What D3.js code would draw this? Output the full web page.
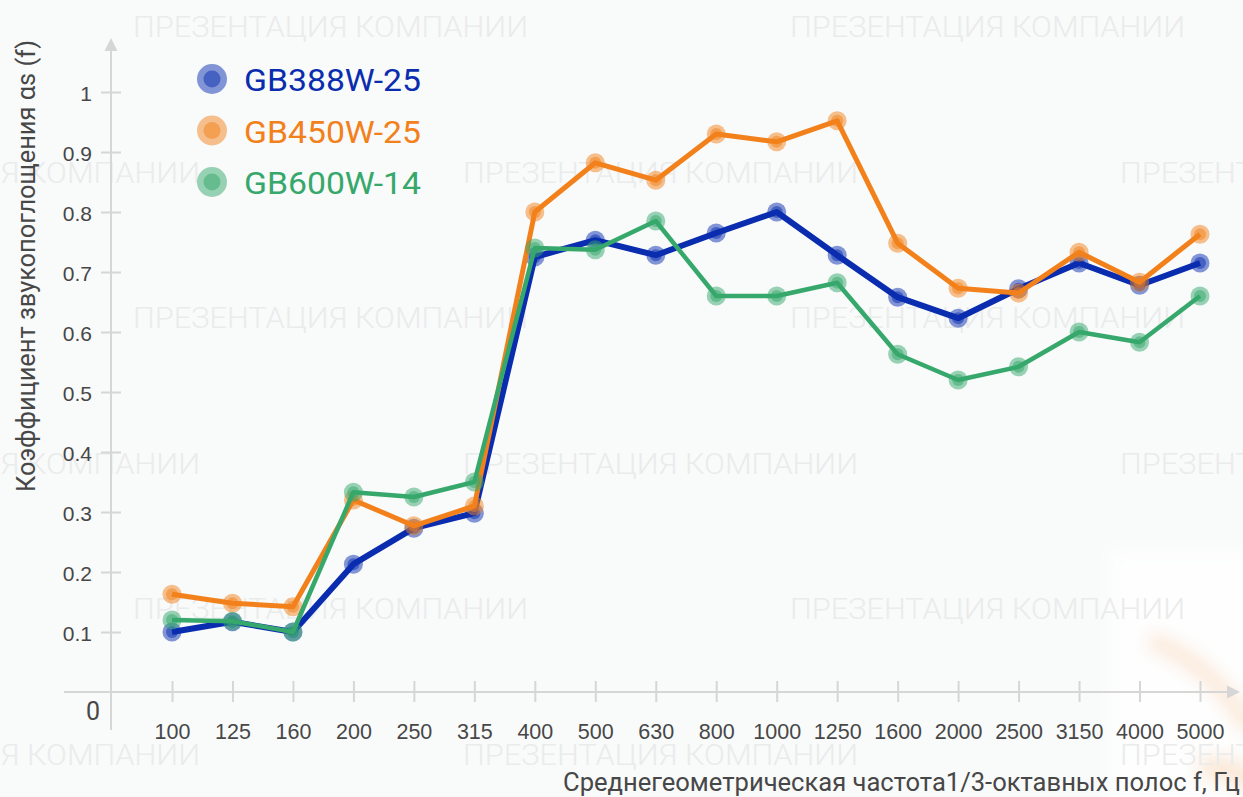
<!DOCTYPE html>
<html>
<head>
<meta charset="utf-8">
<script src="https://cdn.jsdelivr.net/npm/d3@7"></script>
<style>
    html, body { margin: 0; padding: 0; background: #f9fafa; }
    svg { display: block; font-family: Roboto, "Noto Sans", sans-serif; }
</style>
</head>
<body>
<svg id="chart" width="1243" height="797"></svg>
<script>

// Octave-band centre frequencies, Hz
var frequencies = ["100", "125", "160", "200", "250", "315", "400", "500", "630",
    "800", "1000", "1250", "1600", "2000", "2500", "3150", "4000", "5000"];

// Sound absorption coefficient per panel type
var gb388 = [0.10, 0.117, 0.10, 0.213, 0.273, 0.298, 0.725, 0.753, 0.728,
    0.765, 0.80, 0.728, 0.658, 0.623, 0.672, 0.715, 0.678, 0.715];
var gb450 = [0.163, 0.148, 0.142, 0.32, 0.277, 0.31, 0.80, 0.882, 0.853,
    0.93, 0.917, 0.952, 0.748, 0.673, 0.665, 0.733, 0.683, 0.763];
var gb600 = [0.12, 0.118, 0.10, 0.333, 0.325, 0.35, 0.74, 0.737, 0.785,
    0.66, 0.66, 0.682, 0.563, 0.52, 0.542, 0.60, 0.583, 0.66];

var seriesNames = ["GB388W-25", "GB450W-25", "GB600W-14"];
var yTicks = [0.1, 0.2, 0.3, 0.4, 0.5, 0.6, 0.7, 0.8, 0.9, 1];

var yTitle = "Коэффициент звукопоглощения αs (f)";
var xTitle = "Среднегеометрическая частота1/3-октавных полос f, Гц";
var watermark = "ПРЕЗЕНТАЦИЯ КОМПАНИИ";

var svg = d3.select("#chart");
var W = +svg.attr("width"), H = +svg.attr("height");

var cfg = {
    axisX: 111,
    axisY: 692,
    axisColor: "#d6d6d6",
    labelColor: "#474747",
    colors: ["#0a2db0", "#f2811b", "#36a86b"],
    widths: [6, 5, 4.5]
};

var x = d3.scalePoint().domain(frequencies).range([172, 1200]);
var y = d3.scaleLinear().domain([0, 1]).range([cfg.axisY, 92]);

// Background and watermark tiles
svg.append("rect").attr("width", W).attr("height", H).attr("fill", "#f9fafa");

var defs = svg.append("defs");
defs.append("filter").attr("id", "soft")
    .append("feGaussianBlur").attr("stdDeviation", 9);

// faint photo bleed in the lower right corner
var blob = svg.append("g").attr("filter", "url(#soft)");
blob.append("rect").attr("x", 1110).attr("y", 550).attr("width", 160).attr("height", 260)
    .attr("fill", "#ffffff").attr("opacity", 0.8);
blob.append("path").attr("d", "M1150,640 Q1215,665 1250,730")
    .attr("fill", "none").attr("stroke", "#f3b070").attr("stroke-width", 14).attr("opacity", 0.35);
blob.append("path").attr("d", "M1200,770 Q1230,760 1260,790")
    .attr("fill", "none").attr("stroke", "#f3b070").attr("stroke-width", 22).attr("opacity", 0.3);

var wm = svg.append("g").attr("fill", "#eaebeb").attr("font-size", 30).attr("font-weight", 300);
for (var r = 0; r < 6; r++) {
    var starts = r % 2 === 0 ? [133, 790] : [-195, 463, 1120];
    starts.forEach(function (sx) {
        wm.append("text").attr("x", sx).attr("y", 37 + r * 145.5)
            .attr("textLength", 395).attr("lengthAdjust", "spacingAndGlyphs")
            .text(watermark);
    });
}

// Axis lines with arrow heads
var axes = svg.append("g").attr("stroke", cfg.axisColor).attr("stroke-width", 2);
axes.append("line").attr("x1", cfg.axisX).attr("x2", cfg.axisX).attr("y1", 48).attr("y2", 730);
axes.append("line").attr("x1", 64).attr("x2", 1230).attr("y1", cfg.axisY).attr("y2", cfg.axisY);
svg.append("path").attr("fill", cfg.axisColor)
    .attr("d", "M" + cfg.axisX + ",38 L" + (cfg.axisX + 6.5) + ",51 L" + (cfg.axisX - 6.5) + ",51 Z");
svg.append("path").attr("fill", cfg.axisColor)
    .attr("d", "M1240," + cfg.axisY + " L1227," + (cfg.axisY - 6.5) + " L1227," + (cfg.axisY + 6.5) + " Z");

// Y axis ticks and labels
var yAxis = svg.append("g").attr("transform", "translate(" + cfg.axisX + ",0)")
    .call(d3.axisLeft(y).tickValues(yTicks).tickSize(10).tickPadding(9).tickFormat(d3.format("")));
yAxis.select(".domain").remove();
yAxis.selectAll(".tick line").attr("x1", -10).attr("x2", 10)
    .attr("stroke", cfg.axisColor).attr("stroke-width", 2);
yAxis.selectAll(".tick text").attr("dy", "0.42em")
    .attr("fill", cfg.labelColor).attr("font-size", 21).attr("font-family", null);

svg.append("text").attr("x", 93).attr("y", 720).attr("text-anchor", "middle")
    .attr("fill", cfg.labelColor).attr("font-size", 25).text("0");

// X axis ticks and labels
var xAxis = svg.append("g").attr("transform", "translate(0," + cfg.axisY + ")")
    .call(d3.axisBottom(x).tickSize(10));
xAxis.select(".domain").remove();
xAxis.selectAll(".tick line").attr("y1", -11).attr("y2", 10)
    .attr("stroke", cfg.axisColor).attr("stroke-width", 2);
xAxis.selectAll(".tick text").attr("y", 47).attr("dy", 0)
    .attr("fill", cfg.labelColor).attr("font-size", 21.5).attr("font-family", null);

// Axis titles
svg.append("text")
    .attr("transform", "translate(35,266) rotate(-90)")
    .attr("text-anchor", "middle").attr("fill", cfg.labelColor).attr("font-size", 25)
    .attr("textLength", 452).attr("lengthAdjust", "spacingAndGlyphs")
    .text(yTitle);

svg.append("text").attr("x", 1240).attr("y", 791).attr("text-anchor", "end")
    .attr("fill", cfg.labelColor).attr("font-size", 25)
    .attr("textLength", 677).attr("lengthAdjust", "spacingAndGlyphs")
    .text(xTitle);

// Series: line plus two-tone markers
var line = d3.line()
    .x(function (d, i) { return x(frequencies[i]); })
    .y(function (d) { return y(d); });

[gb388, gb450, gb600].forEach(function (values, s) {
    var g = svg.append("g").attr("class", "series");
    g.append("path").datum(values)
        .attr("d", line).attr("fill", "none")
        .attr("stroke", cfg.colors[s]).attr("stroke-width", cfg.widths[s])
        .attr("stroke-linejoin", "round");
    var pts = g.selectAll("g.pt").data(values).enter().append("g").attr("class", "pt")
        .attr("transform", function (d, i) { return "translate(" + x(frequencies[i]) + "," + y(d) + ")"; });
    pts.append("circle").attr("r", 9.5).attr("fill", cfg.colors[s]).attr("fill-opacity", 0.5);
    pts.append("circle").attr("r", 6).attr("fill", cfg.colors[s]).attr("fill-opacity", 0.5);
});

// Legend
var legend = svg.append("g");
seriesNames.forEach(function (name, i) {
    var ly = 79 + i * 51.5;
    legend.append("circle").attr("cx", 212).attr("cy", ly).attr("r", 15)
        .attr("fill", cfg.colors[i]).attr("fill-opacity", 0.5);
    legend.append("circle").attr("cx", 212).attr("cy", ly).attr("r", 8.5)
        .attr("fill", cfg.colors[i]).attr("fill-opacity", 0.5);
    legend.append("text").attr("x", 244).attr("y", ly + 12)
        .attr("fill", cfg.colors[i]).attr("font-size", 32)
        .attr("textLength", 177).attr("lengthAdjust", "spacingAndGlyphs")
        .text(name);
});

</script>
</body>
</html>
